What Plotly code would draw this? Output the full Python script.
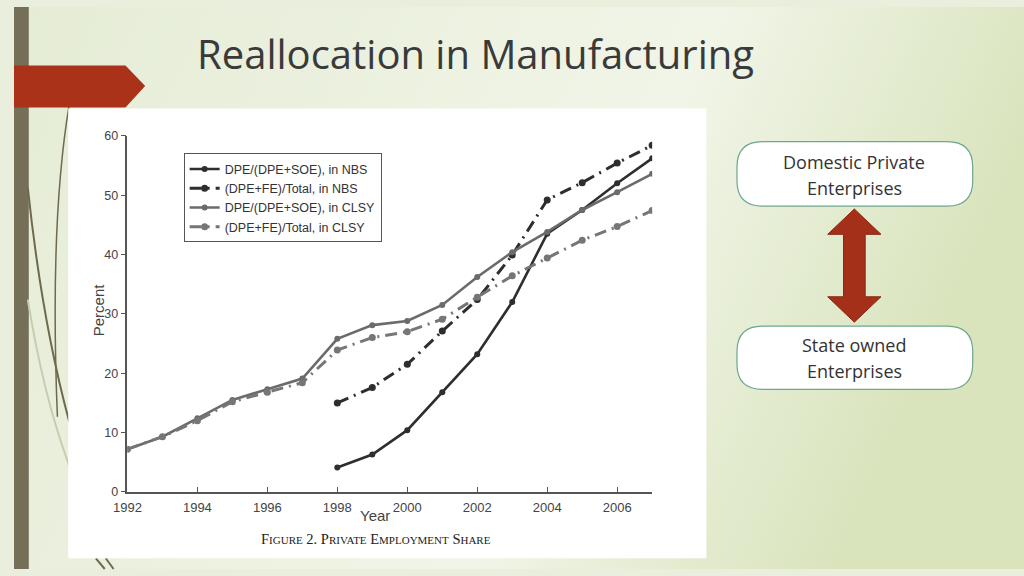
import base64
import plotly.graph_objects as go

W, H = 1024, 576

# DATA
years_clsy = list(range(1992, 2008))
years_nbs = list(range(1998, 2008))

nbs_dpe_soe = [4.1, 6.3, 10.4, 16.8, 23.2, 32.0, 43.5, 47.5, 52.0, 56.2]
nbs_dpe_fe = [15.0, 17.6, 21.5, 27.1, 32.4, 39.9, 49.2, 52.1, 55.4, 58.4]
clsy_dpe_soe = [7.2, 9.3, 12.4, 15.5, 17.3, 19.1, 25.8, 28.1, 28.8, 31.5, 36.2, 40.4, 43.8, 47.5, 50.5, 53.6]
clsy_dpe_fe = [7.2, 9.3, 12.0, 15.2, 16.8, 18.4, 23.9, 26.0, 27.0, 29.1, 32.8, 36.4, 39.4, 42.4, 44.7, 47.4]

series_names = ["DPE/(DPE+SOE), in NBS", "(DPE+FE)/Total, in NBS",
                "DPE/(DPE+SOE), in CLSY", "(DPE+FE)/Total, in CLSY"]
x_ticks = list(range(1992, 2007, 2))
y_ticks = list(range(0, 61, 10))


def px(x):
    return x / W


def py(y):
    return 1 - y / H


def path(points, close=True):
    s = "M " + " L ".join(f"{px(x):.5f},{py(y):.5f}" for x, y in points)
    return s + (" Z" if close else "")


def rounded_box(x0, y0, x1, y1, r):
    p = [
        f"M {px(x0 + r):.5f},{py(y0):.5f}",
        f"L {px(x1 - r):.5f},{py(y0):.5f}",
        f"Q {px(x1):.5f},{py(y0):.5f} {px(x1):.5f},{py(y0 + r):.5f}",
        f"L {px(x1):.5f},{py(y1 - r):.5f}",
        f"Q {px(x1):.5f},{py(y1):.5f} {px(x1 - r):.5f},{py(y1):.5f}",
        f"L {px(x0 + r):.5f},{py(y1):.5f}",
        f"Q {px(x0):.5f},{py(y1):.5f} {px(x0):.5f},{py(y1 - r):.5f}",
        f"L {px(x0):.5f},{py(y0 + r):.5f}",
        f"Q {px(x0):.5f},{py(y0):.5f} {px(x0 + r):.5f},{py(y0):.5f}",
        "Z",
    ]
    return " ".join(p)


# background gradient as an svg image
svg = f"""<svg xmlns='http://www.w3.org/2000/svg' width='{W}' height='{H}'>
<defs><linearGradient id='g' x1='0' y1='0' x2='1' y2='0.25'>
<stop offset='0' stop-color='#e5ecd5'/><stop offset='0.66' stop-color='#f1f5e8'/>
<stop offset='1' stop-color='#d9e4bd'/></linearGradient></defs>
<rect width='{W}' height='{H}' fill='url(#g)'/></svg>"""
bg_src = "data:image/svg+xml;base64," + base64.b64encode(svg.encode()).decode()

dark = "#2e2e2e"
gray = "#6b6b6b"
dashdot = "12px,6px,2px,6px"

fig = go.Figure()
fig.add_trace(go.Scatter(x=years_nbs, y=nbs_dpe_soe, name=series_names[0], mode="lines+markers",
                         line=dict(color=dark, width=2.6), marker=dict(size=6, color=dark)))
fig.add_trace(go.Scatter(x=years_nbs, y=nbs_dpe_fe, name=series_names[1], mode="lines+markers",
                         line=dict(color=dark, width=3, dash=dashdot), marker=dict(size=7, color=dark)))
fig.add_trace(go.Scatter(x=years_clsy, y=clsy_dpe_soe, name=series_names[2], mode="lines+markers",
                         line=dict(color=gray, width=2.6), marker=dict(size=6, color=gray)))
fig.add_trace(go.Scatter(x=years_clsy, y=clsy_dpe_fe, name=series_names[3], mode="lines+markers",
                         line=dict(color="#767676", width=3, dash=dashdot), marker=dict(size=7, color="#767676")))

shapes = [
    # left stripe
    dict(type="rect", xref="paper", yref="paper", x0=0, x1=px(15), y0=0, y1=1,
         fillcolor="#766f58", line_width=0, layer="below"),
    # decorative curves
    dict(type="path", xref="paper", yref="paper", layer="below",
         path=f"M {px(56):.5f},{py(100):.5f} Q {px(36):.5f},{py(220):.5f} {px(44):.5f},{py(420):.5f}",
         line=dict(color="#6e6a4e", width=1.5)),
    dict(type="path", xref="paper", yref="paper", layer="below",
         path=f"M {px(14):.5f},{py(185):.5f} Q {px(28):.5f},{py(320):.5f} {px(56):.5f},{py(425):.5f}",
         line=dict(color="#6e6a4e", width=2)),
    dict(type="path", xref="paper", yref="paper", layer="below",
         path=f"M {px(14):.5f},{py(300):.5f} Q {px(30):.5f},{py(400):.5f} {px(56):.5f},{py(470):.5f}",
         line=dict(color="#c6cdb0", width=2)),
    dict(type="path", xref="paper", yref="paper", layer="below",
         path=path([(83, 565), (92, 576)], close=False), line=dict(color="#6e6a4e", width=2)),
    dict(type="path", xref="paper", yref="paper", layer="below",
         path=path([(93, 565), (101, 576)], close=False), line=dict(color="#6e6a4e", width=2)),
    # red tab
    dict(type="path", xref="paper", yref="paper", layer="below",
         path=path([(0, 60), (113, 60), (133, 81), (113, 103), (0, 103)]),
         fillcolor="#a93219", line_width=0),
    # white panel behind chart
    dict(type="rect", xref="paper", yref="paper", x0=px(55), x1=px(702), y0=py(565), y1=py(104),
         fillcolor="white", line_width=0, layer="below"),
    # boxes on the right
    dict(type="path", xref="paper", yref="paper", layer="below",
         path=rounded_box(733, 138, 972, 204, 26), fillcolor="white",
         line=dict(color="#6fa68e", width=1.2)),
    dict(type="path", xref="paper", yref="paper", layer="below",
         path=rounded_box(733, 327, 972, 392, 26), fillcolor="white",
         line=dict(color="#6fa68e", width=1.2)),
    # double arrow
    dict(type="path", xref="paper", yref="paper", layer="below",
         path=path([(852, 207), (879, 233), (863, 233), (863, 297), (879, 297), (852, 323),
                    (825, 297), (841, 297), (841, 233), (825, 233)]),
         fillcolor="#a5301a", line=dict(color="#8a2814", width=1)),
]

sm = "<span style='font-size:11px'>"
caption = (f"F{sm}IGURE</span> 2. P{sm}RIVATE</span> "
           f"E{sm}MPLOYMENT</span> S{sm}HARE</span>")

box_font = dict(family="Open Sans", size=18, color="#333333")


def box_line(text, y, anchor):
    return dict(text=text, x=px(852), y=py(y), xref="paper", yref="paper", borderpad=0,
                xanchor="center", yanchor=anchor, showarrow=False, font=box_font)


annotations = [
    dict(text="Reallocation in Manufacturing", x=px(184), y=py(48), xref="paper", yref="paper",
         xanchor="left", yanchor="middle", showarrow=False,
         font=dict(family="Open Sans", size=40, color="#3a3a3a")),
    box_line("Domestic Private", 172, "bottom"),
    box_line("Enterprises", 172, "top"),
    box_line("State owned", 360, "bottom"),
    box_line("Enterprises", 360, "top"),
    dict(text="Year", x=px(366), y=py(521), xref="paper", yref="paper", showarrow=False,
         xanchor="center", yanchor="middle",
         font=dict(family="Liberation Sans", size=15, color="#444444")),
    dict(text="Percent", x=px(86), y=py(310), xref="paper", yref="paper", showarrow=False,
         textangle=-90, xanchor="center", yanchor="middle",
         font=dict(family="Liberation Sans", size=15, color="#444444")),
    dict(text=caption, x=px(367), y=py(545), xref="paper", yref="paper", showarrow=False,
         xanchor="center", yanchor="middle",
         font=dict(family="Liberation Serif", size=14.5, color="#222222")),
]

fig.update_layout(
    autosize=True,
    margin=dict(l=0, r=0, t=0, b=0),
    paper_bgcolor="#e9efdc",
    plot_bgcolor="rgba(0,0,0,0)",
    images=[dict(source=bg_src, xref="paper", yref="paper", x=0, y=1, sizex=1, sizey=1,
                 xanchor="left", yanchor="top", sizing="stretch", layer="below")],
    shapes=shapes,
    annotations=annotations,
    showlegend=True,
    legend=dict(x=px(172), y=py(150), xanchor="left", yanchor="top",
                bgcolor="white", bordercolor="#555555", borderwidth=1,
                font=dict(family="Liberation Sans", size=12.5, color="#333333"),
                tracegroupgap=0),
    xaxis=dict(domain=[px(115), px(647)], range=[1992, 2007], tickvals=x_ticks,
               ticks="inside", ticklen=5, tickcolor="#555", showgrid=False, zeroline=False,
               showline=True, linecolor="#555555", linewidth=1.5, ticklabelstandoff=3,
               tickfont=dict(family="Liberation Sans", size=13, color="#444444")),
    yaxis=dict(domain=[py(497), py(132)], range=[0, 60], tickvals=y_ticks,
               ticks="outside", ticklen=5, tickcolor="#555", showgrid=False, zeroline=False,
               showline=True, linecolor="#555555", linewidth=1.5,
               tickfont=dict(family="Liberation Sans", size=12.5, color="#444444")),
)

# pin the plot div to the page corner so the body margin does not shift it
fig.write_html("out.html", default_width="1024px",
               default_height="576px; position:absolute; left:0; top:0",
               config={"displayModeBar": False})
